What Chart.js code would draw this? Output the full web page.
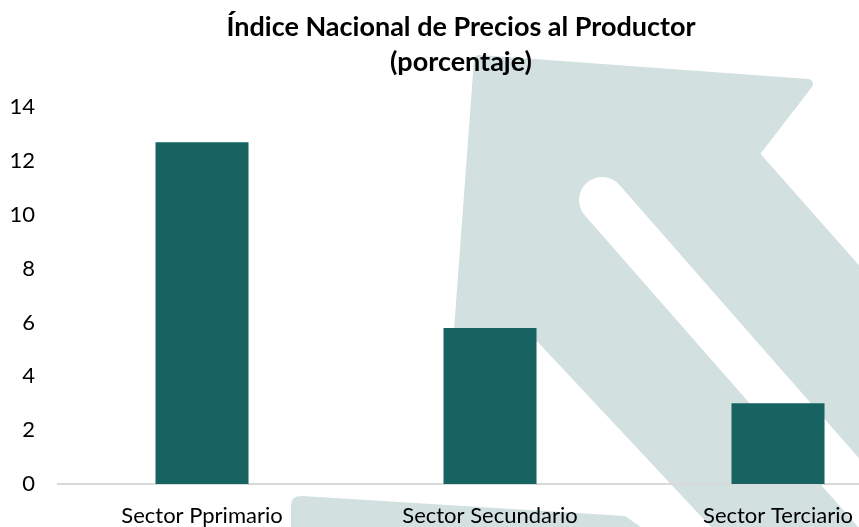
<!DOCTYPE html>
<html lang="es">
<head>
<meta charset="utf-8">
<title>Índice Nacional de Precios al Productor</title>
<script src="https://cdn.jsdelivr.net/npm/chart.js@4.4.1/dist/chart.umd.min.js"></script>
<style>
  html, body { margin: 0; padding: 0; background: #ffffff; overflow: hidden; }
  .wrap { width: 944px; height: 527px; }
</style>
</head>
<body>
<div class="wrap"><canvas id="inpp"></canvas></div>
<script>
const sectores = ['Sector Pprimario', 'Sector Secundario', 'Sector Terciario'];
const variacion = [12.7, 5.8, 3.0];
const ticksY = [0, 2, 4, 6, 8, 10, 12, 14];
const titulo = ['Índice Nacional de Precios al Productor', '(porcentaje)'];

// marca de agua (flecha) detrás de las barras
const fondoFlecha = {
    id: 'fondoFlecha',
    beforeDraw(chart) {
        const ctx = chart.ctx;
        ctx.save();
        ctx.fillStyle = '#d2e0e0';
        ctx.lineJoin = 'round';
        ctx.strokeStyle = '#d2e0e0';
        ctx.lineWidth = 10;
        ctx.beginPath();
        ctx.moveTo(479, 60);
        ctx.lineTo(808, 84);
        ctx.lineTo(754, 154);
        ctx.lineTo(1095, 540);
        ctx.lineTo(730, 540);
        ctx.lineTo(540, 337);
        ctx.lineTo(459, 330);
        ctx.closePath();
        ctx.fill();
        ctx.stroke();

        ctx.strokeStyle = '#ffffff';
        ctx.lineCap = 'round';
        ctx.lineWidth = 46;
        ctx.beginPath();
        ctx.moveTo(602, 200);
        ctx.lineTo(900, 540);
        ctx.stroke();

        ctx.fillStyle = '#d2e0e0';
        ctx.beginPath();
        ctx.moveTo(291, 505);
        ctx.quadraticCurveTo(291, 496, 302, 496);
        ctx.lineTo(625, 516);
        ctx.lineTo(645, 530);
        ctx.lineTo(291, 530);
        ctx.closePath();
        ctx.fill();
        ctx.restore();
    }
};

new Chart(document.getElementById('inpp'), {
    type: 'bar',
    data: {
        labels: sectores,
        datasets: [{
            data: variacion,
            backgroundColor: '#166361',
            categoryPercentage: 1,
            barPercentage: 0.323
        }]
    },
    options: {
        responsive: true,
        maintainAspectRatio: false,
        animation: false,
        layout: { padding: { left: 0, right: 22, top: 0, bottom: 0 } },
        plugins: {
            legend: { display: false },
            tooltip: { enabled: false },
            title: {
                display: true,
                text: titulo,
                color: '#000000',
                font: { family: 'Lato', size: 27, weight: 'bold', lineHeight: 1.3 },
                padding: { top: 10, bottom: 27 }
            }
        },
        scales: {
            x: {
                grid: { display: false },
                border: { display: true, color: '#d9d9d9', width: 2 },
                afterFit(scale) {
                    scale.height = 43;
                },
                ticks: {
                    color: '#000000',
                    padding: 11,
                    maxRotation: 0,
                    autoSkip: false,
                    font: { family: 'Lato', size: 22 }
                }
            },
            y: {
                min: 0,
                max: 14,
                grid: { display: false, drawTicks: false },
                border: { display: false },
                afterBuildTicks(scale) {
                    scale.ticks = ticksY.map(v => ({ value: v }));
                },
                afterFit(scale) {
                    scale.width = 58;
                },
                ticks: {
                    color: '#000000',
                    padding: 23,
                    font: { family: 'Lato', size: 22 }
                }
            }
        }
    },
    plugins: [fondoFlecha]
});
</script>
</body>
</html>
